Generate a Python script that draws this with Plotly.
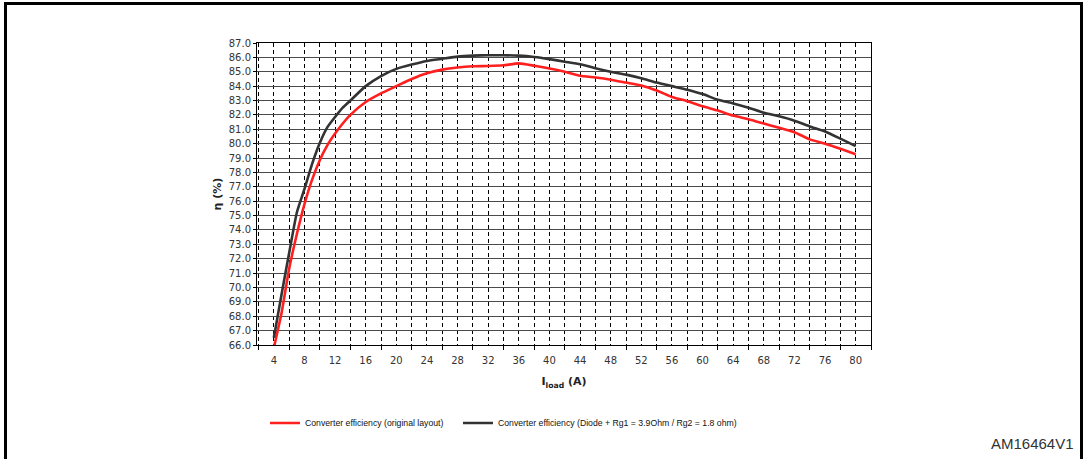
import plotly.graph_objects as go

x_load = [4, 5, 6, 7, 8, 9, 10, 11, 12, 13, 14, 16, 18, 20, 22, 24, 26, 28, 30, 32, 34, 36, 38, 40, 42,
          44, 46, 48, 50, 52, 54, 56, 58, 60, 62, 64, 66, 68, 70, 72, 74, 76, 78, 80]

eff_original = [65.8, 68.2, 71.3, 73.7, 75.8, 77.5, 78.85, 79.9, 80.7, 81.4, 82.0,
                82.9, 83.5, 84.0, 84.5, 84.9, 85.15, 85.3, 85.38, 85.4, 85.45, 85.58,
                85.42, 85.23, 85.0, 84.72, 84.6, 84.45, 84.25, 84.05, 83.7, 83.25,
                82.95, 82.6, 82.3, 81.95, 81.7, 81.4, 81.1, 80.8, 80.3, 80.0, 79.65,
                79.27]

eff_diode = [66.5, 69.5, 72.4, 75.2, 76.85, 78.6, 80.05, 81.15, 81.85, 82.5, 83.0,
             84.0, 84.7, 85.2, 85.5, 85.75, 85.9, 86.05, 86.12, 86.15, 86.15, 86.12,
             86.03, 85.88, 85.7, 85.52, 85.25, 85.0, 84.8, 84.55, 84.25, 84.0, 83.75,
             83.45, 83.05, 82.8, 82.5, 82.15, 81.9, 81.6, 81.2, 80.85, 80.35, 79.83]

name_original = "Converter efficiency (original layout)"
name_diode = "Converter efficiency (Diode + Rg1 = 3.9Ohm / Rg2 = 1.8 ohm)"

x_ticks = list(range(4, 81, 4))
y_ticks = [v for v in range(66, 88)]
y_ticktext = [f"{v:.1f}" for v in y_ticks]

L, R, T, B = 257, 215, 43, 114
W, H = 1086, 459
PW, PH = W - L - R, H - T - B


def px(xp):
    return (xp - L) / PW


def py(yp):
    return (H - B - yp) / PH


fig = go.Figure()
fig.add_trace(go.Scatter(x=x_load, y=eff_original, mode="lines", name=name_original,
                         line=dict(color="#ff1f1f", width=2.6, shape="spline", smoothing=0.5),
                         legend="legend"))
fig.add_trace(go.Scatter(x=x_load, y=eff_diode, mode="lines", name=name_diode,
                         line=dict(color="#333333", width=2.6, shape="spline", smoothing=0.5),
                         legend="legend2"))

tickfont = dict(family="DejaVu Sans", size=10, color="#333333")
legfont = dict(family="Liberation Sans", size=8.7, color="#111111")

fig.update_layout(
    width=W, height=H,
    margin=dict(l=L, r=R, t=T, b=B, autoexpand=False),
    paper_bgcolor="white", plot_bgcolor="white",
    showlegend=True,
    xaxis=dict(
        range=[1.8, 82], tickvals=x_ticks, ticktext=[str(v) for v in x_ticks],
        ticks="", ticklabelstandoff=6,
        showgrid=True, gridcolor="black", gridwidth=1, griddash="4px,3px",
        showline=True, linecolor="black", linewidth=1, mirror=True,
        zeroline=False, tickfont=tickfont,
        minor=dict(tick0=2, dtick=4, ticks="outside", ticklen=4, tickcolor="black",
                   showgrid=True, gridcolor="black", gridwidth=1, griddash="4px,3px"),
        title=dict(text="I<sub>load</sub> (A)", standoff=12,
                   font=dict(family="DejaVu Sans", size=11, color="#222222", weight="bold")),
    ),
    yaxis=dict(
        range=[66, 87], tickvals=y_ticks, ticktext=y_ticktext,
        ticks="outside", ticklen=3, tickcolor="black",
        showgrid=True, gridcolor="#4a4a4a", gridwidth=1,
        showline=True, linecolor="black", linewidth=1, mirror=True,
        zeroline=False, tickfont=tickfont,
        title=dict(text="η (%)", standoff=4,
                   font=dict(family="DejaVu Sans", size=11, color="#222222", weight="bold")),
    ),
    legend=dict(x=px(265), y=py(423), xanchor="left", yanchor="middle",
                orientation="h", font=legfont, bgcolor="rgba(0,0,0,0)",
                itemwidth=30, tracegroupgap=0),
    legend2=dict(x=px(458), y=py(423), xanchor="left", yanchor="middle",
                 orientation="h", font=legfont, bgcolor="rgba(0,0,0,0)",
                 itemwidth=30, tracegroupgap=0),
    shapes=[dict(type="rect", xref="paper", yref="paper",
                 x0=px(5.5), x1=px(1081.5), y0=py(475), y1=py(3.5),
                 line=dict(color="black", width=3), fillcolor="rgba(0,0,0,0)")],
    annotations=[dict(text="AM16464V1", xref="paper", yref="paper",
                      x=px(1076), y=py(443), xanchor="right", yanchor="middle",
                      showarrow=False,
                      font=dict(family="Liberation Sans", size=15, color="#333333"))],
)

fig.write_html("out.html")
